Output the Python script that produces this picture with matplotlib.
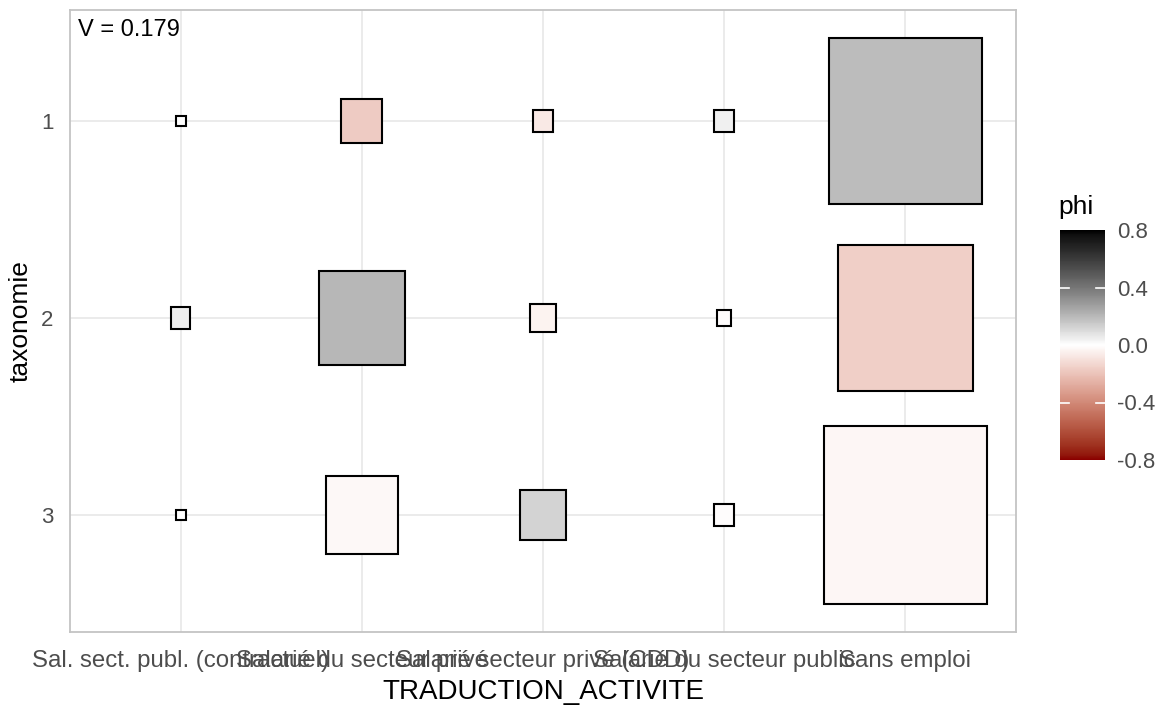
import numpy as np
import matplotlib
matplotlib.use("Agg")
import matplotlib.pyplot as plt
from matplotlib.colors import ListedColormap, Normalize
import matplotlib.cm as cm

plt.rcParams['font.family'] = ['Liberation Sans', 'DejaVu Sans']

# ---- data ----
activities = ["Sal. sect. publ. (contractuel)", "Salarié du secteur privé",
              "Salarié secteur privé (CDD)", "Salarié du secteur public", "Sans emploi"]
taxonomie = ["1", "2", "3"]
counts_1 = [1, 17, 4, 4, 238]
counts_2 = [4, 75, 7, 2, 185]
counts_3 = [1, 53, 22, 4, 270]
phi_1 = [0.0, -0.17, -0.07, 0.04, 0.19]
phi_2 = [0.045, 0.20, -0.04, -0.01, -0.16]
phi_3 = [0.0, -0.02, 0.12, -0.01, -0.03]
cramer_v = 0.179
phi_ticks = [0.8, 0.4, 0.0, -0.4, -0.8]

counts = [counts_1, counts_2, counts_3]
phis = [phi_1, phi_2, phi_3]

# ---- Lab-interpolated diverging palette (darkred - white - black) ----
def srgb_to_lab(c):
    c = np.asarray(c, float)
    lin = np.where(c <= 0.04045, c / 12.92, ((c + 0.055) / 1.055) ** 2.4)
    M = np.array([[0.4124, 0.3576, 0.1805], [0.2126, 0.7152, 0.0722], [0.0193, 0.1192, 0.9505]])
    xyz = M @ lin
    xyz = xyz / np.array([0.95047, 1.0, 1.08883])
    f = np.where(xyz > 0.008856, np.cbrt(xyz), 7.787 * xyz + 16 / 116)
    return np.array([116 * f[1] - 16, 500 * (f[0] - f[1]), 200 * (f[1] - f[2])])

def lab_to_srgb(lab):
    L, a, b = lab
    fy = (L + 16) / 116
    fx = fy + a / 500
    fz = fy - b / 200
    f = np.array([fx, fy, fz])
    xyz = np.where(f ** 3 > 0.008856, f ** 3, (f - 16 / 116) / 7.787)
    xyz = xyz * np.array([0.95047, 1.0, 1.08883])
    Minv = np.array([[3.2406, -1.5372, -0.4986], [-0.9689, 1.8758, 0.0415], [0.0557, -0.2040, 1.0570]])
    lin = Minv @ xyz
    lin = np.clip(lin, 0, 1)
    c = np.where(lin <= 0.0031308, 12.92 * lin, 1.055 * lin ** (1 / 2.4) - 0.055)
    return np.clip(c, 0, 1)

low = srgb_to_lab([139 / 255, 0, 0])
mid = srgb_to_lab([1, 1, 1])
high = srgb_to_lab([0, 0, 0])
cols = []
for t in np.linspace(0, 1, 256):
    if t < 0.5:
        u = t / 0.5
        lab = low + (mid - low) * u
    else:
        u = (t - 0.5) / 0.5
        lab = mid + (high - mid) * u
    cols.append(lab_to_srgb(lab))
cmap = ListedColormap(cols)
norm = Normalize(-0.8, 0.8)

# ---- figure ----
fig = plt.figure(figsize=(11.69, 7.11), dpi=100)
ax = fig.add_axes([70 / 1169, 1 - 632 / 711, (1016 - 70) / 1169, (632 - 10) / 711])

maxn = max(max(c) for c in counts)
xpos = np.arange(1, len(activities) + 1)
for i, (cr, pr) in enumerate(zip(counts, phis)):
    sizes = 0.9 * np.sqrt(np.array(cr) / maxn)
    ax.bar(xpos, sizes, width=sizes, bottom=(i + 1) - sizes / 2,
           color=cmap(norm(np.array(pr))), edgecolor='black', linewidth=1.5, zorder=3)

ax.set_xlim(0.39, 5.61)
ax.set_ylim(3.594, 0.437)
ax.set_xticks(xpos)
ax.set_xticklabels(activities)
ax.set_yticks([1, 2, 3])
ax.set_yticklabels(taxonomie)
ax.tick_params(length=0, labelsize=16, labelcolor='#4D4D4D')
ax.tick_params(axis='x', pad=13, labelsize=17.3)
ax.tick_params(axis='y', pad=12)
ax.grid(True, color='#EBEBEB', linewidth=1.4, zorder=0)
ax.set_axisbelow(True)
for s in ax.spines.values():
    s.set_color('#C4C4C4')
    s.set_linewidth(1.3)
ax.set_xlabel("TRADUCTION_ACTIVITE", fontsize=20, labelpad=5)
ax.set_ylabel("taxonomie", fontsize=19, labelpad=6)
ax.text(0.0085, 0.985, f"V = {cramer_v}", transform=ax.transAxes, ha='left', va='top',
        fontsize=17, color='black')

# ---- colorbar ----
cax = fig.add_axes([1060 / 1169, 1 - 460 / 711, 45 / 1169, 230 / 711])
cb = fig.colorbar(cm.ScalarMappable(norm=norm, cmap=cmap), cax=cax)
cb.outline.set_visible(False)
cb.set_ticks(phi_ticks)
cb.set_ticklabels([f"{t:.1f}" for t in phi_ticks])
cax.tick_params(length=0, labelsize=16, labelcolor='#4D4D4D', pad=9)
for t in [0.4, -0.4]:
    cax.plot([0, 0.2], [t, t], color='white', linewidth=1.2, transform=cax.get_yaxis_transform())
    cax.plot([0.8, 1.0], [t, t], color='white', linewidth=1.2, transform=cax.get_yaxis_transform())
fig.text(1058 / 1169, 1 - 207 / 711, "phi", ha='left', va='center', fontsize=19)

fig.savefig("out.png", dpi=100)
